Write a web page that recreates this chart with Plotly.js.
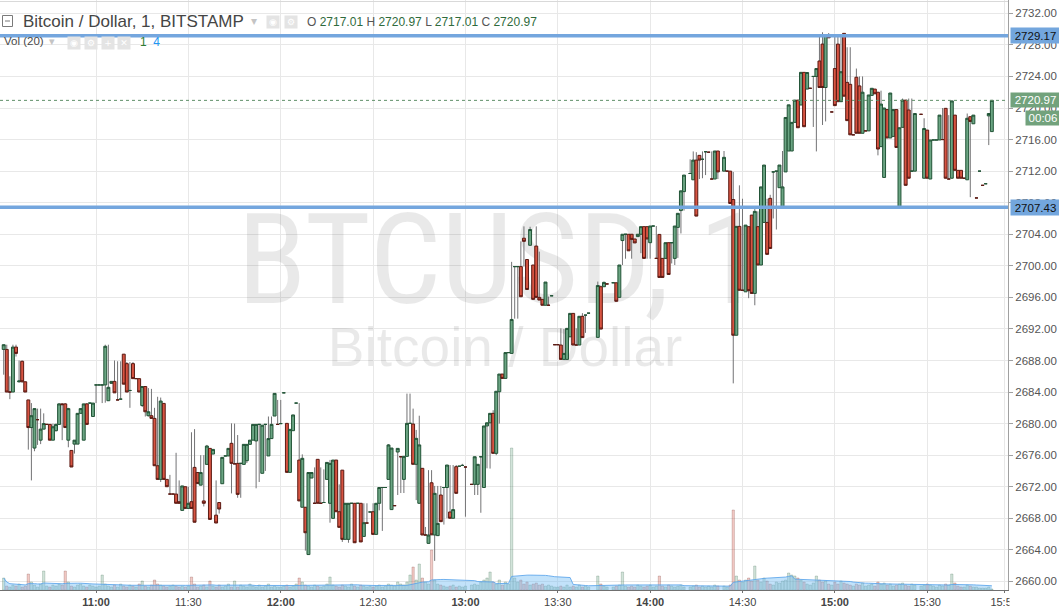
<!DOCTYPE html>
<html><head><meta charset="utf-8">
<script src="https://cdn.plot.ly/plotly-3.0.1.min.js"></script>
<style>html,body{margin:0;padding:0;background:#fff;}#chart{width:1059px;height:608px;}</style>
</head><body><div id="chart"></div>
<script>
// ---- data: 1-minute BTC/USD bars, 10:30 .. 15:51 (null = no bar) ----
const sessionDate = '2017-06-21';
const firstMinute = '10:30';
const open = [
2689.4,2689.4,2684.0,2684.0,2689.7,2685.3,2687.9,2685.3,2683.0,2679.5,2676.9,2680.5,2677.9,2679.3,2679.9,2679.9,2677.9,2679.1,2679.9,2682.5,2682.5,2677.9,2676.6,2677.4,2677.4,2681.3,2677.9,2682.5,2682.6,2680.9,
2684.9,2684.9,2684.9,2684.9,2682.9,2685.1,2685.35,2683.0,2683.1,2688.8,2687.6,2684.2,2687.6,2685.7,2685.7,2682.3,2684.7,2681.0,2681.0,2680.66,2674.66,2672.93,2682.56,2672.93,2671.07,2671.07,2671.07,2670.1,2669.0,2672.0,
2669.25,2670.1,2674.45,2673.8,2672.2,2670.2,2674.83,2676.86,2676.14,2668.4,2670.0,2672.38,2675.9,2675.9,2677.5,2674.9,2674.96,2674.96,2674.83,2675.3,2677.37,2677.9,2677.8,2679.9,2673.7,2679.9,2675.9,2678.1,2680.96,2679.9,
2680.0,2683.9,2680.03,2673.82,2679.1,2682.6,2675.38,2669.4,2669.4,2663.4,2673.1,2669.9,2675.47,2669.9,2670.0,2672.93,2669.9,2667.99,2675.38,2668.83,2674.1,2665.33,2665.33,2669.9,2669.9,2669.9,2669.9,2665.7,2667.4,2668.8,
2668.83,2665.96,2669.9,2671.9,2671.9,2672.93,2669.1,2669.6,2676.4,2675.8,2672.93,2675.85,2680.03,2679.95,2674.84,2669.9,2674.33,2665.88,2664.82,2672.5,2665.88,2665.8,2670.95,2671.9,2671.9,2668.8,2668.0,2674.54,2674.6,2674.7,
2674.5,null,2672.3,2672.3,2672.3,2675.8,2671.9,2679.7,2680.1,2681.3,2676.23,2684.04,2686.28,2685.73,2689.0,2688.9,2699.9,2699.9,2699.9,2703.5,2700.8,2702.6,2700.1,2702.5,2696.0,2695.75,2695.0,2695.0,2696.2,2690.0,
2690.0,2689.96,2688.14,2688.14,2691.0,2693.97,2689.96,2689.96,2693.6,2693.75,2694.0,null,null,2690.93,2697.35,2697.35,2697.7,null,2697.85,2697.85,2696.0,2703.2,2704.0,2704.0,2704.0,2703.4,2703.7,2704.0,2704.96,2704.96,
2702.93,2705.04,2700.94,2703.98,2700.94,2700.94,2702.93,2702.93,2700.94,2704.87,2707.0,2709.4,null,2711.7,2710.9,2713.4,2714.0,2713.5,2714.46,2714.4,2711.0,2711.0,2714.55,null,2712.0,2712.0,2712.0,2708.4,2691.2,2705.0,
2696.9,2696.7,2704.96,2706.43,2696.5,2704.96,2700.1,2705.5,2705.5,2708.55,2711.9,2712.0,2709.9,2707.4,2711.9,2714.55,2714.55,2718.18,2721.0,2720.38,2724.52,2722.4,2722.5,2724.0,2724.0,2725.96,2728.1,2722.6,2729.3,2719.5,
2725.0,2728.1,2720.8,2729.46,2723.25,2723.0,2716.6,2723.9,2722.8,2716.8,2717.1,2717.1,2721.6,2722.4,2722.0,2715.1,2711.2,2719.8,2716.2,2716.4,2719.8,2707.5,2717.55,2721.0,2719.75,2712.0,2712.0,null,2719.2,2711.1,
2717.2,2711.0,2715.95,2715.95,2715.95,2716.0,2719.96,2711.0,2711.1,2719.1,2712.1,2712.1,2711.1,2710.9,2718.9,2718.0,2708.6,2712.0,2710.2,2710.4,2719.0,2717.01
];
const high = [
2690.0,2690.0,2686.0,2690.0,2690.0,2688.0,2688.0,2685.3,2683.0,2682.6,2681.9,2681.9,2681.9,2681.3,2679.9,2679.9,2680.0,2680.0,2682.6,2682.6,2682.6,2682.0,2676.6,2677.9,2681.3,2681.9,2682.5,2682.6,2682.6,2682.6,
2684.9,2684.9,2684.9,2690.0,2690.0,2685.35,2688.0,2687.9,2687.9,2688.8,2687.8,2687.8,2687.8,2685.7,2685.7,2684.7,2684.7,2684.5,2684.4,2682.0,2683.4,2683.3,2682.56,2672.93,2673.5,2671.07,2676.3,2672.8,2672.1,2672.0,
2672.0,2678.9,2679.3,2673.8,2676.0,2676.0,2677.3,2676.86,2676.73,2672.8,2670.0,2675.72,2675.9,2676.86,2680.03,2680.0,2678.55,2674.96,2677.37,2677.37,2677.9,2679.9,2679.9,2679.9,2679.8,2679.9,2680.9,2680.9,2683.83,2683.0,
2683.0,2683.9,2680.03,2679.27,2681.1,2682.6,2682.6,2676.1,2669.4,2673.8,2673.8,2674.45,2675.47,2674.45,2674.2,2675.08,2675.4,2675.38,2675.38,2672.3,2674.1,2669.9,2669.9,2669.9,2669.9,2669.9,2669.9,2669.9,2669.9,2668.8,
2669.9,2669.9,2671.9,2671.9,2671.9,2677.4,2676.9,2669.6,2676.86,2675.8,2675.85,2683.8,2683.8,2681.9,2679.2,2681.0,2674.33,2666.9,2674.1,2674.1,2672.1,2672.1,2672.1,2671.9,2674.75,2674.75,2674.75,2674.75,2674.6,2674.9,
2674.5,null,2672.3,2675.8,2674.84,2675.8,2679.7,2680.1,2681.3,2681.7,2684.1,2686.28,2686.28,2689.0,2689.0,2700.5,2699.9,2699.9,2703.1,2705.0,2700.8,2704.95,2700.1,2705.0,2701.8,2695.75,2697.94,2696.1,2696.2,2690.0,
2690.0,2692.07,2692.0,2692.07,2693.97,2693.97,2692.07,2693.6,2694.0,2693.75,2694.0,null,null,2698.0,2697.5,2698.0,2697.7,null,2697.85,2697.85,2700.1,2704.0,2704.0,2704.0,2704.0,2703.4,2704.0,2704.96,2704.96,2704.96,
2705.04,2705.04,2705.04,2703.98,2700.94,2702.93,2702.93,2702.93,2705.04,2706.65,2709.5,2711.5,null,2713.5,2714.5,2714.4,2714.0,2714.5,2714.46,2714.4,2714.5,2714.55,2714.55,null,2714.55,2712.0,2712.0,2711.9,2705.0,2710.2,
2708.5,2705.16,2704.96,2706.43,2707.5,2706.9,2710.0,2712.77,2708.5,2709.0,2711.9,2712.0,2712.77,2714.55,2718.8,2720.4,2718.18,2721.0,2721.0,2724.52,2724.52,2724.5,2722.5,2724.0,2725.0,2729.25,2729.6,2729.3,2729.5,2719.5,
2729.0,2729.0,2729.25,2729.5,2727.7,2727.7,2716.6,2725.0,2724.0,2724.0,2717.1,2721.65,2722.5,2722.4,2722.0,2722.2,2720.0,2719.8,2721.9,2719.8,2719.8,2717.5,2721.2,2721.0,2721.2,2721.2,2719.3,null,2719.2,2718.7,
2717.2,2715.95,2715.95,2715.95,2719.1,2720.0,2719.96,2719.1,2720.9,2719.1,2712.1,2712.1,2711.1,2719.3,2718.9,2719.1,2708.6,2712.0,2710.2,2710.4,2719.3,2720.97
];
const low = [
2686.2,2684.0,2683.1,2684.0,2688.5,2685.2,2685.2,2684.0,2676.7,2672.8,2676.5,2677.3,2677.4,2679.3,2679.9,2677.9,2677.9,2679.0,2679.9,2677.9,2679.5,2677.0,2674.5,2676.2,2677.4,2681.3,2677.9,2679.9,2682.6,2680.9,
2682.6,2684.9,2682.6,2682.65,2682.9,2685.1,2683.9,2683.0,2683.1,2685.0,2684.0,2682.0,2685.7,2685.7,2684.0,2682.1,2680.9,2680.9,2680.66,2674.66,2672.93,2672.6,2672.93,2672.0,2671.07,2671.07,2669.9,2669.9,2669.0,2669.25,
2669.25,2669.25,2667.5,2672.4,2672.2,2669.5,2674.83,2667.86,2676.14,2667.4,2668.6,2672.38,2675.9,2675.9,2671.15,2674.9,2670.6,2670.6,2674.83,2675.0,2677.37,2677.9,2671.8,2672.6,2673.7,2674.0,2675.9,2678.1,2680.96,2679.9,
2680.0,2683.9,2673.82,2673.82,2679.1,2682.6,2670.2,2669.4,2663.9,2663.4,2673.1,2669.9,2669.9,2669.9,2670.0,2672.93,2667.44,2667.99,2668.83,2666.85,2665.0,2665.33,2664.9,2669.9,2664.9,2669.9,2665.0,2665.7,2667.4,2668.8,
2665.96,2665.96,2669.0,2666.4,2671.9,2672.93,2669.1,2669.6,2670.95,2671.2,2671.2,2675.85,2680.03,2674.84,2670.3,2669.9,2665.88,2665.88,2664.82,2665.9,2662.6,2665.8,2667.57,2667.2,2668.0,2668.0,2668.0,2671.16,2674.6,2674.7,
2668.2,null,2672.3,2670.95,2670.95,2668.7,2671.9,2674.33,2674.3,2676.23,2676.0,2680.0,2685.73,2685.73,2689.0,2688.9,2693.3,2693.3,2696.08,2699.9,2697.0,2702.6,2695.75,2696.0,2695.66,2695.0,2695.0,2695.0,2696.2,2690.0,
2690.0,2688.14,2688.14,2688.14,2691.0,2689.96,2689.96,2689.96,2690.9,2691.5,2694.0,null,null,2690.93,2691.98,2697.35,2697.7,null,2697.85,2695.5,2696.0,2700.1,2700.9,2701.9,2700.9,2702.9,2703.7,2701.6,2700.94,2700.9,
2700.9,2705.04,2700.94,2698.53,2698.53,2700.94,2698.9,2700.3,2700.1,2701.0,2704.1,2707.0,null,2711.7,2710.9,2706.3,2711.0,2711.1,2711.5,2714.4,2711.0,2711.0,2711.0,null,2712.0,2712.0,2707.9,2685.1,2691.2,2696.9,
2696.9,2696.7,2695.9,2696.5,2695.0,2700.1,2700.1,2705.5,2701.45,2702.2,2706.0,2704.6,2709.9,2707.4,2711.9,2714.55,2714.55,2718.18,2717.5,2720.38,2717.63,2722.4,2722.5,2717.6,2714.5,2722.6,2717.85,2718.3,2728.9,2719.5,
2720.3,2720.8,2720.8,2721.5,2718.4,2716.6,2716.6,2716.8,2716.8,2716.8,2717.1,2717.1,2721.6,2721.8,2714.0,2715.1,2711.2,2716.2,2716.2,2716.4,2715.0,2707.5,2717.55,2710.2,2711.1,2712.0,2712.0,null,2719.2,2711.1,
2711.1,2711.0,2715.95,2715.95,2715.95,2716.0,2711.1,2711.0,2711.1,2712.1,2711.1,2711.1,2711.1,2710.9,2708.7,2718.0,2708.6,2712.0,2710.2,2710.4,2715.3,2717.01
];
const close = [
2690.0,2684.0,2684.0,2689.7,2688.9,2685.4,2685.3,2684.0,2679.5,2681.0,2681.9,2680.5,2679.3,2680.0,2679.9,2677.9,2679.6,2679.9,2682.5,2682.4,2679.5,2681.9,2674.5,2677.9,2681.3,2681.9,2682.5,2679.9,2682.6,2682.6,
2684.9,2684.9,2684.9,2689.8,2684.6,2685.35,2683.9,2683.0,2683.1,2685.0,2684.0,2684.2,2685.7,2685.7,2684.0,2684.7,2681.5,2681.5,2680.66,2674.66,2672.93,2682.86,2672.93,2672.0,2671.07,2671.07,2669.9,2669.9,2672.1,2669.25,
2669.9,2669.25,2667.5,2672.4,2673.8,2669.9,2677.16,2667.86,2676.73,2667.4,2669.17,2675.72,2675.9,2676.86,2674.96,2674.9,2671.03,2674.96,2677.37,2677.37,2677.9,2679.9,2679.9,2679.9,2679.8,2679.9,2678.1,2679.9,2683.83,2679.9,
2680.0,2683.9,2673.82,2679.27,2681.1,2682.6,2670.2,2675.6,2666.17,2673.8,2673.8,2669.9,2669.9,2669.9,2670.0,2675.08,2674.96,2675.38,2668.83,2666.85,2665.33,2669.9,2669.9,2669.9,2664.9,2669.9,2665.0,2667.44,2667.4,2668.8,
2665.96,2669.9,2671.9,2671.9,2671.9,2677.3,2676.9,2669.6,2676.86,2675.8,2675.85,2680.03,2680.03,2674.84,2678.13,2677.3,2665.88,2665.88,2665.88,2665.9,2671.16,2667.35,2667.57,2671.9,2674.75,2668.0,2669.1,2671.16,2674.6,2674.7,
2674.5,null,2672.3,2675.8,2674.84,2675.8,2679.7,2680.1,2681.3,2676.23,2684.1,2686.28,2685.73,2689.0,2689.0,2693.2,2699.9,2699.9,2696.08,2703.1,2697.0,2704.6,2695.75,2696.0,2695.66,2695.0,2697.94,2695.0,2696.2,2690.0,
2690.0,2688.14,2688.9,2692.07,2693.97,2689.96,2689.96,2693.6,2690.9,2693.75,2694.0,null,null,2697.5,2691.98,2697.9,2697.7,null,2697.85,2695.5,2700.1,2704.0,2704.0,2701.9,2703.35,2702.9,2704.0,2704.96,2700.94,2703.4,
2705.04,2705.04,2700.94,2698.53,2698.53,2702.93,2698.9,2702.93,2705.04,2706.65,2709.5,2711.5,null,2711.7,2713.4,2706.3,2713.4,2713.5,2714.46,2714.4,2711.0,2714.55,2711.9,null,2713.75,2712.0,2707.9,2691.2,2705.0,2696.9,
2696.9,2705.16,2696.85,2696.5,2706.9,2700.1,2710.0,2712.77,2701.45,2702.2,2711.9,2712.0,2712.77,2710.0,2718.8,2720.4,2718.18,2721.0,2717.5,2724.52,2717.63,2724.5,2722.5,2724.0,2725.0,2722.6,2722.6,2729.3,2728.9,2719.5,
2720.3,2720.8,2724.6,2721.5,2718.4,2716.6,2716.6,2716.8,2716.8,2722.0,2717.1,2721.65,2722.5,2721.8,2714.8,2720.5,2720.0,2716.2,2721.9,2719.8,2715.0,2717.5,2721.0,2710.2,2711.1,2712.0,2719.3,null,2719.2,2717.4,
2711.1,2715.95,2715.95,2715.95,2719.1,2716.0,2711.1,2711.0,2720.9,2712.1,2711.1,2711.1,2711.1,2718.7,2718.3,2719.1,2708.6,2712.0,2710.2,2710.4,2719.3,2720.97
];
const volume = [
12,4,3,5,4,6,3,4,16,8,5,3,6,19,4,3,5,4,6,5,19,8,4,3,5,6,4,3,5,4,
3,4,15,6,4,3,5,3,6,4,3,5,4,3,6,9,4,3,5,10,6,5,4,3,4,5,4,3,4,3,
4,13,6,3,4,5,3,9,4,3,5,3,4,6,3,9,3,5,4,3,6,4,3,5,3,4,6,3,4,3,
3,4,5,3,4,6,12,8,5,4,3,5,4,3,4,6,13,5,4,3,5,4,3,6,4,3,5,4,3,4,
3,4,5,3,4,6,5,4,8,6,5,8,15,23,10,26,12,8,6,40,10,6,5,4,3,4,5,3,4,3,
4,null,5,6,5,8,10,12,18,8,6,10,5,8,6,142,12,8,10,6,8,5,6,7,5,6,4,5,4,3,
3,4,3,5,3,4,3,5,3,4,3,null,null,14,6,4,3,null,3,4,5,18,4,3,4,3,5,4,3,4,
5,3,4,14,4,3,5,4,3,4,5,3,null,3,4,5,3,4,3,4,3,5,4,null,4,3,5,80,14,10,
8,10,12,9,24,10,8,12,9,6,5,8,7,9,10,17,15,14,12,10,8,6,5,7,14,10,8,9,6,5,
8,6,9,7,6,5,4,6,5,7,4,5,6,4,8,6,7,5,6,4,5,6,7,5,4,6,5,null,4,5,
6,5,4,3,5,4,6,5,16,7,4,3,3,5,4,3,3,2,2,2,3,1
];
const levels = [2729.17, 2707.43];
const lastPrice = 2720.97;
const tickTimes = ['11:00','11:30','12:00','12:30','13:00','13:30','14:00','14:30','15:00','15:30','15:55'];
const tickLabels = ['<b>11:00</b>','11:30','<b>12:00</b>','12:30','<b>13:00</b>','13:30','<b>14:00</b>','14:30','<b>15:00</b>','15:30','15:55'];
const symbolTitle = 'Bitcoin / Dollar, 1, BITSTAMP';
const watermark1 = 'BTCUSD, 1';
const watermark2 = 'Bitcoin / Dollar';

// ---- build ----
const [h0, m0] = firstMinute.split(':').map(Number);
const times = open.map((_, i) => {
  const m = h0 * 60 + m0 + i;
  return sessionDate + ' ' + String(Math.floor(m / 60)).padStart(2, '0') + ':' + String(m % 60).padStart(2, '0');
});
const at = hm => sessionDate + ' ' + hm;
const idx = times.map((t, i) => i).filter(i => open[i] !== null);

const W = 1059, H = 608, PW = 1008, PH = 590;
const px = x => x / PW, py = y => 1 - y / PH;
const yRange = [2658.91, 2733.69];
const xRange = [at('10:28:48'), at('15:56:15')];

// wicks
const wx = [], wy = [];
idx.forEach(i => { wx.push(times[i], times[i], null); wy.push(low[i], high[i], null); });

// volume moving average (20)
const ma = []; const win = []; let last = null;
volume.forEach(v => { if (v !== null) { win.push(v); if (win.length > 20) win.shift(); last = win.reduce((a, b) => a + b, 0) / win.length; } ma.push(last); });

const up = i => close[i] >= open[i];
const traces = [
  { type: 'scatter', mode: 'text', x: [at('13:11:00'), at('13:12:54')], y: [2699.3, 2689.0],
    text: [watermark1, watermark2], textposition: 'middle center',
    textfont: { family: ['Liberation Sans Narrow, Arial Narrow, Roboto Condensed, Liberation Sans', 'Liberation Sans, Arial, sans-serif'], size: [127, 55], color: 'rgba(0,0,0,0.085)' },
    hoverinfo: 'skip', xaxis: 'x', yaxis: 'y' },
  { type: 'scatter', mode: 'lines', x: wx, y: wy, line: { color: '#737375', width: 1 }, hoverinfo: 'skip', xaxis: 'x', yaxis: 'y' },
  { type: 'scatter', mode: 'lines', x: times, y: ma, fill: 'tozeroy', fillcolor: 'rgba(120,190,245,0.45)',
    line: { color: 'rgba(90,165,235,0.85)', width: 1 }, hoverinfo: 'skip', xaxis: 'x', yaxis: 'y2' },
  { type: 'bar', x: idx.map(i => times[i]), y: idx.map(i => volume[i]), xaxis: 'x', yaxis: 'y2',
    marker: { color: idx.map(i => up(i) ? 'rgba(107,165,131,0.3)' : 'rgba(215,84,66,0.3)'),
              line: { color: idx.map(i => up(i) ? 'rgba(34,84,55,0.35)' : 'rgba(91,26,19,0.35)'), width: 0.6 } },
    hoverinfo: 'skip' },
  { type: 'candlestick', x: idx.map(i => times[i]), open: idx.map(i => open[i]), close: idx.map(i => close[i]),
    high: idx.map(i => Math.max(open[i], close[i])), low: idx.map(i => Math.min(open[i], close[i])),
    increasing: { fillcolor: '#6ba583', line: { color: '#225437', width: 1 } },
    decreasing: { fillcolor: '#d75442', line: { color: '#5b1a13', width: 1 } },
    whiskerwidth: 0, hoverinfo: 'skip', xaxis: 'x', yaxis: 'y3' }
];

const font = 'Liberation Sans, Arial, sans-serif';
const ann = [];
ann.push({ xref: 'paper', yref: 'paper', x: px(21), y: py(21.5), xanchor: 'left', yanchor: 'middle', showarrow: false,
  text: symbolTitle, font: { family: font, size: 17, color: '#454545' } });
ann.push({ xref: 'paper', yref: 'paper', x: px(249), y: py(21), xanchor: 'left', yanchor: 'middle', showarrow: false,
  text: '▾', font: { family: 'DejaVu Sans', size: 12, color: '#c4c4c4' } });
[[273, 21.5, '◉'], [291, 21.5, '⚙'], [74, 42.5, '◉'], [90.5, 42.5, '⚙'], [107.5, 42.5, '+'], [124, 42.5, '✕']].forEach(([x, y, t]) => {
  ann.push({ xref: 'paper', yref: 'paper', x: px(x), y: py(y), xanchor: 'center', yanchor: 'middle', showarrow: false,
    text: t, width: 11, height: 11, bgcolor: '#e4e4e4', borderpad: 0.5, font: { family: 'DejaVu Sans', size: 9, color: '#ffffff' } });
});
const g = s => '<span style="color:#2f6b3c">' + s + '</span>';
ann.push({ xref: 'paper', yref: 'paper', x: px(305), y: py(22), xanchor: 'left', yanchor: 'middle', showarrow: false,
  text: 'O ' + g(open[open.length - 1].toFixed(2)) + ' H ' + g(high[high.length - 1].toFixed(2)) +
        ' L ' + g(low[low.length - 1].toFixed(2)) + ' C ' + g(close[close.length - 1].toFixed(2)),
  font: { family: font, size: 12, color: '#555555' } });
ann.push({ xref: 'paper', yref: 'paper', x: px(2), y: py(41.5), xanchor: 'left', yanchor: 'middle', showarrow: false,
  text: 'Vol (20)', font: { family: font, size: 11.5, color: '#4a4a4a' } });
ann.push({ xref: 'paper', yref: 'paper', x: px(47), y: py(41.5), xanchor: 'left', yanchor: 'middle', showarrow: false,
  text: '▾', font: { family: 'DejaVu Sans', size: 11, color: '#c4c4c4' } });
ann.push({ xref: 'paper', yref: 'paper', x: px(138), y: py(42), xanchor: 'left', yanchor: 'middle', showarrow: false,
  text: '<span style="color:#2f7d32">' + volume[volume.length - 1] + '</span>  <span style="color:#2196f3">' + Math.round(ma[ma.length - 1]) + '</span>',
  font: { family: font, size: 12, color: '#2f7d32' } });
// price labels on the scale
levels.forEach(v => ann.push({ xref: 'paper', yref: 'y', x: px(1009.5), y: v, xanchor: 'left', yanchor: 'middle', showarrow: false,
  text: v.toFixed(2), width: 47, height: 13, bgcolor: '#73a6dd', borderpad: 1, font: { family: font, size: 11.5, color: '#111111' } }));
ann.push({ xref: 'paper', yref: 'y', x: px(1009.5), y: lastPrice, xanchor: 'left', yanchor: 'middle', showarrow: false,
  text: lastPrice.toFixed(2), width: 47, height: 12, bgcolor: '#72a27c', borderpad: 1, font: { family: font, size: 11.5, color: '#ffffff' } });
ann.push({ xref: 'paper', yref: 'paper', x: px(1025), y: py(118), xanchor: 'left', yanchor: 'middle', showarrow: false,
  text: '00:06', width: 32, height: 12, bgcolor: '#72a27c', borderpad: 1, font: { family: font, size: 11.5, color: '#ffffff' } });

const shapes = [
  { type: 'line', xref: 'paper', yref: 'paper', x0: 0, x1: 1, y0: py(1.5), y1: py(1.5), line: { color: '#d9d9d9', width: 1 } },
  { type: 'line', xref: 'paper', yref: 'y', x0: 0, x1: 1, y0: lastPrice, y1: lastPrice, line: { color: '#5f8f69', width: 1, dash: 'dot' } },
  ...levels.map(v => ({ type: 'line', xref: 'paper', yref: 'y', x0: 0, x1: 1, y0: v, y1: v, line: { color: '#74a6de', width: 3.5 } })),
  { type: 'rect', xref: 'paper', yref: 'paper', x0: px(2.5), x1: px(12.5), y0: py(26.5), y1: py(15.5), line: { color: '#7a7a7a', width: 1 }, fillcolor: '#ffffff' },
  { type: 'line', xref: 'paper', yref: 'paper', x0: px(5), x1: px(10), y0: py(21), y1: py(21), line: { color: '#7a7a7a', width: 1 } },
  { type: 'rect', xref: 'paper', yref: 'paper', x0: px(1009.5), x1: px(1062), y0: py(608), y1: py(591), line: { width: 0 }, fillcolor: '#ffffff' }
];

const layout = {
  width: W, height: H, margin: { l: 0, r: 51, t: 0, b: 18, pad: 0 },
  paper_bgcolor: '#ffffff', plot_bgcolor: '#ffffff', showlegend: false, hovermode: false, bargap: 0.25,
  boxgap: 0.05, boxgroupgap: 0,
  font: { family: font, color: '#4a4a4a' },
  xaxis: { type: 'date', range: xRange, rangeslider: { visible: false }, tickmode: 'array', tickvals: tickTimes.map(at), ticktext: tickLabels,
    showgrid: true, gridcolor: '#e8e8e8', gridwidth: 1, showline: true, linecolor: '#707070', linewidth: 1,
    ticks: 'outside', ticklen: 2, tickcolor: '#707070', tickfont: { family: font, size: 11, color: '#444444' }, zeroline: false, fixedrange: true },
  yaxis: { range: yRange, side: 'right', tickmode: 'linear', tick0: 2660, dtick: 4, tickformat: '.2f',
    showgrid: true, gridcolor: '#e8e8e8', gridwidth: 1, showline: true, linecolor: '#a0a0a0', ticks: 'outside', ticklen: 4, tickcolor: '#a0a0a0',
    tickfont: { family: font, size: 11.5, color: '#555555' }, zeroline: false, fixedrange: true },
  yaxis2: { overlaying: 'y', anchor: 'x', range: [0, PH], visible: false, fixedrange: true },
  yaxis3: { overlaying: 'y', anchor: 'x', range: yRange, visible: false, fixedrange: true },
  annotations: ann, shapes: shapes
};
Plotly.newPlot('chart', traces, layout, { displayModeBar: false, staticPlot: true });
</script></body></html>
